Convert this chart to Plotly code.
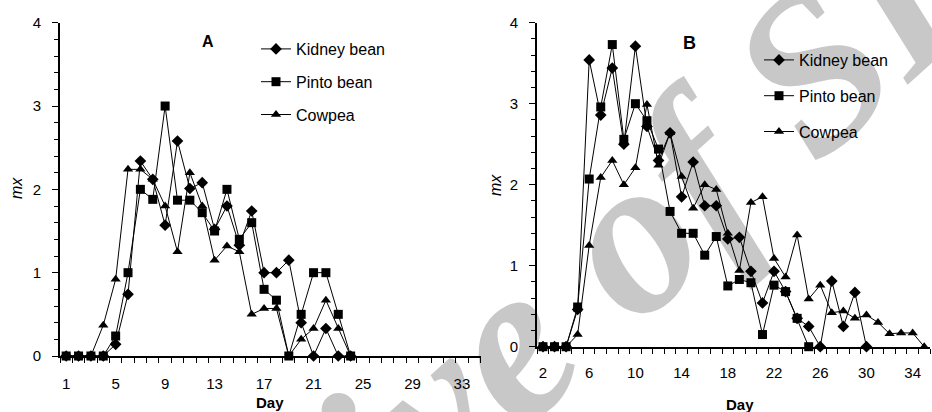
import plotly.graph_objects as go

# ---------------- data ----------------
days_a = list(range(1, 25))
kidney_a = [0, 0, 0, 0, 0.14, 0.74, 2.34, 2.12, 1.57, 2.58, 2.01, 2.08, 1.52, 1.80,
            1.33, 1.74, 1.00, 1.00, 1.15, 0.40, 0, 0.33, 0, 0]
pinto_a = [0, 0, 0, 0, 0.24, 1.00, 2.00, 1.88, 3.00, 1.87, 1.87, 1.72, 1.50, 2.00,
           1.40, 1.60, 0.80, 0.67, 0, 0.50, 1.00, 1.00, 0.50, 0]
cowpea_a = [0, 0, 0, 0.37, 0.92, 2.24, 2.24, 2.12, 1.80, 1.25, 2.20, 1.80, 1.15, 1.32,
            1.25, 0.50, 0.57, 0.57, 0, 0.20, 0.33, 0.67, 0.33, 0]

days_b_kidney = list(range(2, 31))
kidney_b = [0, 0, 0, 0.46, 3.54, 2.86, 3.44, 2.50, 3.71, 2.72, 2.30, 2.64, 1.85, 2.28,
            1.74, 1.74, 1.33, 1.35, 0.93, 0.54, 0.93, 0.68, 0.35, 0.25, 0, 0.81, 0.25,
            0.67, 0]
days_b_pinto = list(range(2, 26))
pinto_b = [0, 0, 0, 0.49, 2.07, 2.96, 3.73, 2.56, 3.00, 2.79, 2.44, 1.67, 1.40, 1.40,
           1.13, 1.36, 0.75, 0.83, 0.79, 0.15, 0.76, 0.68, 0.35, 0]
days_b_cowpea = list(range(2, 36))
cowpea_b = [0, 0, 0, 0.15, 1.25, 2.09, 2.30, 2.00, 2.21, 2.99, 2.24, 2.64, 2.10, 1.71,
            2.00, 1.94, 1.40, 0.94, 1.78, 1.85, 1.09, 0.86, 1.38, 0.59, 0.76, 0.42,
            0.44, 0.35, 0.39, 0.30, 0.16, 0.17, 0.17, 0]

series_names = ["Kidney bean", "Pinto bean", "Cowpea"]
ticks_a = [1, 5, 9, 13, 17, 21, 25, 29, 33]
ticks_b = [2, 6, 10, 14, 18, 22, 26, 30, 34]
watermark = "Archive of SID"

# ---------------- figure ----------------
FONT = "Liberation Sans, Arial, sans-serif"
W, H = 932, 412
symbols = ["diamond", "square", "triangle-up"]
sizes = [9, 9, 9]

fig = go.Figure()

panel_a = [(days_a, kidney_a), (days_a, pinto_a), (days_a, cowpea_a)]
panel_b = [(days_b_kidney, kidney_b), (days_b_pinto, pinto_b), (days_b_cowpea, cowpea_b)]

for i, (x, y) in enumerate(panel_a):
    fig.add_trace(go.Scatter(
        x=x, y=y, mode="lines+markers", name=series_names[i],
        line=dict(color="black", width=1),
        marker=dict(symbol=symbols[i], size=sizes[i], color="black"),
        xaxis="x", yaxis="y", legend="legend", legendgroup="a%d" % i,
        cliponaxis=False, showlegend=True,
    ))
for i, (x, y) in enumerate(panel_b):
    fig.add_trace(go.Scatter(
        x=x, y=y, mode="lines+markers", name=series_names[i],
        line=dict(color="black", width=1),
        marker=dict(symbol=symbols[i], size=sizes[i], color="black"),
        xaxis="x2", yaxis="y2", legend="legend2", legendgroup="b%d" % i,
        cliponaxis=False, showlegend=True,
    ))

def px_x(p):
    return p / W

def px_y(p):
    return (H - p) / H

xaxis_common = dict(
    automargin=False,
    showgrid=False, zeroline=False, showline=True, linecolor="black", linewidth=2,
    ticks="outside", ticklen=0, tickfont=dict(family=FONT, size=15, color="black"),
    minor=dict(ticks="outside", ticklen=5, tickcolor="black", tickwidth=1,
               tick0=0.5, dtick=1),
)
yaxis_common = dict(
    automargin=False,
    showgrid=False, zeroline=False, showline=True, linecolor="black", linewidth=2,
    range=[0, 4], tickvals=[0, 1, 2, 3, 4], ticks="outside", ticklen=6,
    tickcolor="black", tickwidth=1,
    minor=dict(ticks="outside", ticklen=4, tickcolor="black", tickwidth=1,
               tick0=0, dtick=0.2),
    tickfont=dict(family=FONT, size=15, color="black"), ticklabelstandoff=8,
)

def label(text, x, y, size, angle=0):
    return dict(text=text, x=px_x(x), y=px_y(y), xref="paper", yref="paper",
                xanchor="center", yanchor="middle", showarrow=False, textangle=angle,
                font=dict(family=FONT, size=size, color="black"))

# watermark drawn beneath the traces
wx, wy = 508, 310
fig.add_shape(
    type="rect", xref="paper", yref="paper",
    x0=px_x(wx - 1), x1=px_x(wx + 1), y0=px_y(wy + 1), y1=px_y(wy - 1),
    line=dict(width=0), fillcolor="rgba(0,0,0,0)", layer="below",
    label=dict(text=watermark, textposition="middle center", textangle=-42,
               font=dict(family="Liberation Serif, Times New Roman, serif", size=225,
                         color="#c8c8c8", style="italic", weight="bold")),
)

fig.update_layout(
    template="none",
    width=W, height=H, margin=dict(l=0, r=0, t=0, b=0, autoexpand=False),
    paper_bgcolor="white", plot_bgcolor="rgba(0,0,0,0)",
    font=dict(family=FONT, color="black"),
    xaxis=dict(xaxis_common, domain=[px_x(60), px_x(480.5)], range=[0.5, 34.5],
               tickvals=ticks_a, anchor="y", ticklabelstandoff=13),
    yaxis=dict(yaxis_common, domain=[px_y(356), px_y(22.7)], anchor="x"),
    xaxis2=dict(xaxis_common, domain=[px_x(537.2), px_x(930)], range=[1.5, 35.5],
                tickvals=ticks_b, anchor="y2", ticklabelstandoff=11),
    yaxis2=dict(yaxis_common, domain=[px_y(346.7), px_y(22.7)], anchor="x2"),
    legend=dict(x=px_x(256), y=px_y(32), xanchor="left", yanchor="top",
                font=dict(family=FONT, size=16, color="black"),
                bgcolor="rgba(0,0,0,0)", tracegroupgap=9, itemwidth=30),
    legend2=dict(x=px_x(759), y=px_y(43), xanchor="left", yanchor="top",
                 font=dict(family=FONT, size=16, color="black"),
                 bgcolor="rgba(0,0,0,0)", tracegroupgap=12, itemwidth=30),
    annotations=[
        label("<b>A</b>", 208, 42, 16),
        label("<b>B</b>", 689.5, 43, 18),
        label("<b>Day</b>", 270, 402, 15),
        label("<b>Day</b>", 740, 404, 15),
        label("<i>mx</i>", 16, 188, 16, -90),
        label("<i>mx</i>", 495, 185, 16, -90),
    ],
)

fig.write_html("out.html", config={"displayModeBar": False},
               post_script="document.body.style.margin='0';document.body.style.overflow='hidden';")
